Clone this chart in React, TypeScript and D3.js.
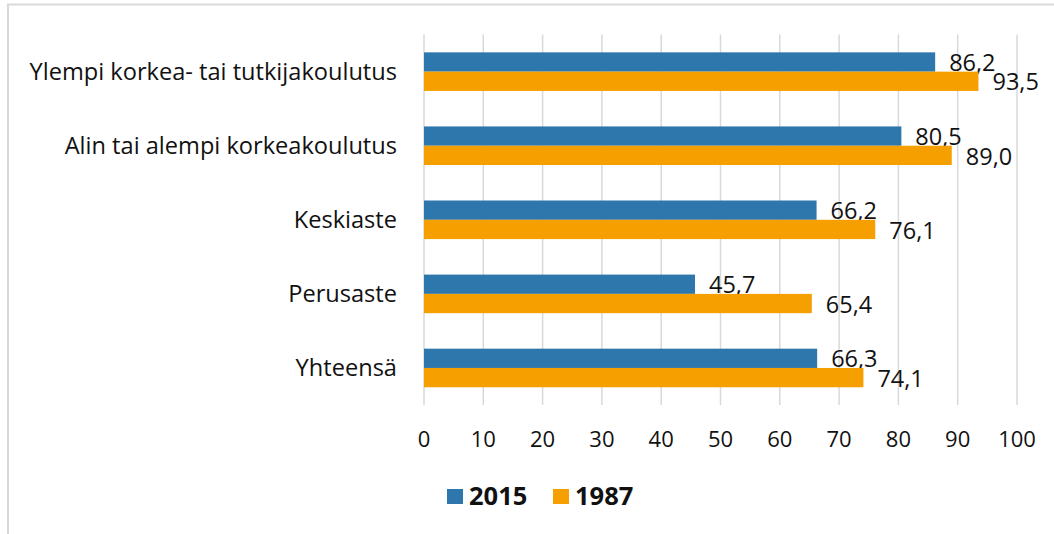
import * as d3 from 'd3';
import React, { useRef, useEffect } from 'react';

// categories top to bottom
const categories = [
  'Ylempi korkea- tai tutkijakoulutus',
  'Alin tai alempi korkeakoulutus',
  'Keskiaste',
  'Perusaste',
  'Yhteensä',
];
const seriesNames = ['2015', '1987'];
const values2015 = [86.2, 80.5, 66.2, 45.7, 66.3];
const values1987 = [93.5, 89.0, 76.1, 65.4, 74.1];
const xTicks = [0, 10, 20, 30, 40, 50, 60, 70, 80, 90, 100];
const colors = ['#2e77ad', '#f5a000'];

const FONT = '"Open Sans", sans-serif';

const App = () => {
  const ref = useRef(null);

  const width = 1054,
    height = 534;
  const plot = { left: 424, right: 1017, top: 34.6, bottom: 405 };

  useEffect(() => {
    const svg = d3.select(ref.current);
    svg.selectAll('*').remove();

    // outer frame (cut by the window on right/bottom)
    svg.append('path')
      .attr('d', 'M8,540 L8,4.5 L1060,4.5')
      .attr('fill', 'none')
      .attr('stroke', '#d9d9d9')
      .attr('stroke-width', 2);

    const x = d3.scaleLinear().domain([0, 100]).range([plot.left, plot.right]);
    const y = d3.scaleBand()
      .domain(categories)
      .range([plot.top, plot.bottom])
      .paddingInner(0.479)
      .paddingOuter(0.2395);
    const ySub = d3.scaleBand().domain(seriesNames).range([0, y.bandwidth()]);

    // vertical grid
    svg.append('g')
      .selectAll('line')
      .data(xTicks)
      .join('line')
      .attr('x1', (d) => x(d))
      .attr('x2', (d) => x(d))
      .attr('y1', plot.top)
      .attr('y2', plot.bottom)
      .attr('stroke', '#d9d9d9')
      .attr('stroke-width', 1.5);

    // tick labels
    svg.append('g')
      .selectAll('text')
      .data(xTicks)
      .join('text')
      .attr('x', (d) => x(d))
      .attr('y', 447)
      .attr('text-anchor', 'middle')
      .style('font-family', FONT)
      .style('font-size', '22px')
      .attr('fill', '#111')
      .text((d) => d);

    // category labels
    svg.append('g')
      .selectAll('text')
      .data(categories)
      .join('text')
      .attr('x', 397)
      .attr('y', (d) => y(d) + y.bandwidth() / 2 + 8.5)
      .attr('text-anchor', 'end')
      .style('font-family', FONT)
      .style('font-size', '23.6px')
      .attr('fill', '#111')
      .text((d) => d);

    const seriesData = [values2015, values1987];
    seriesData.forEach((vals, si) => {
      const g = svg.append('g');
      const rows = categories.map((c, i) => ({ c, v: vals[i] }));
      g.selectAll('rect')
        .data(rows)
        .join('rect')
        .attr('x', x(0))
        .attr('y', (d) => y(d.c) + ySub(seriesNames[si]))
        .attr('width', (d) => x(d.v) - x(0))
        .attr('height', ySub.bandwidth())
        .attr('fill', colors[si]);
      g.selectAll('text')
        .data(rows)
        .join('text')
        .attr('x', (d) => x(d.v) + 14)
        .attr('y', (d) => y(d.c) + ySub(seriesNames[si]) + ySub.bandwidth() - 0.5)
        .style('font-family', FONT)
        .style('font-size', '23.5px')
        .attr('fill', '#111')
        .text((d) => d.v.toFixed(1).replace('.', ','));
    });

    // legend
    const legendX = [447, 553];
    seriesNames.forEach((name, i) => {
      svg.append('rect')
        .attr('x', legendX[i]).attr('y', 489)
        .attr('width', 16).attr('height', 15)
        .attr('fill', colors[i]);
      svg.append('text')
        .attr('x', legendX[i] + 22).attr('y', 505)
        .style('font-family', FONT)
        .style('font-size', '25.5px')
        .style('font-weight', 'bold')
        .attr('fill', '#111')
        .text(name);
    });
  }, []);

  return (
    <div style={{ position: 'absolute', left: 0, top: 0 }}>
      <svg ref={ref} width={width} height={height} style={{ display: 'block' }}></svg>
    </div>
  );
};

export default App;
